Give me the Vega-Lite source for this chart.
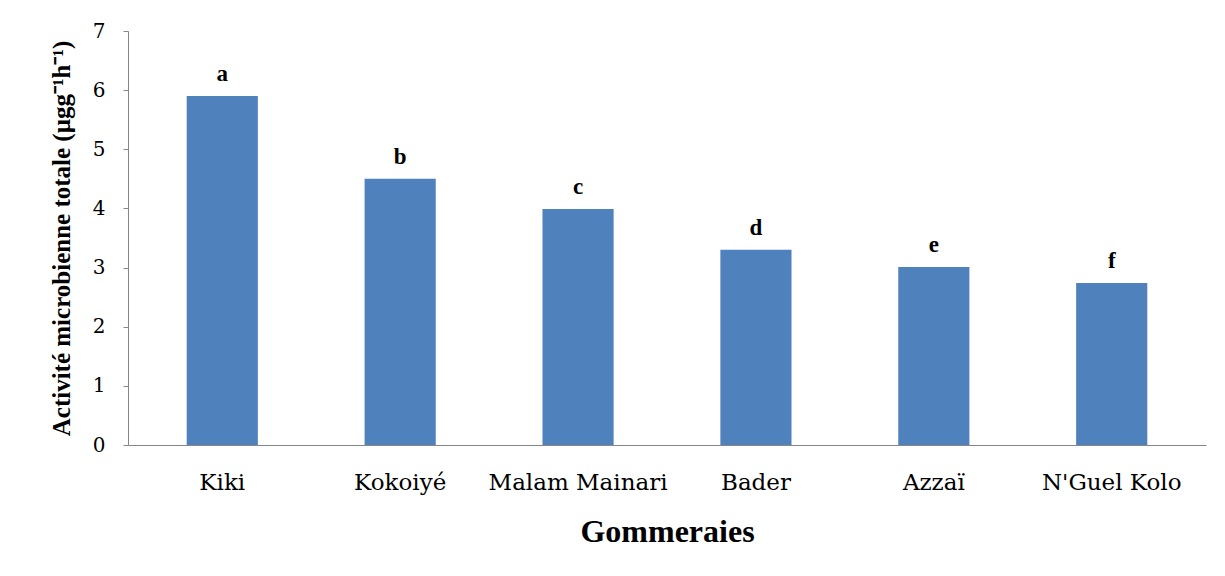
{
  "$schema": "https://vega.github.io/schema/vega-lite/v6.json",
  "width": 1078,
  "height": 414,
  "autosize": {"type": "none"},
  "padding": {"left": 128, "top": 31, "right": 19, "bottom": 131},
  "background": "white",
  "config": {"view": {"stroke": null}, "font": "Liberation Serif"},
  "data": {"values": [
    {"site": "Kiki", "value": 5.9, "letter": "a"},
    {"site": "Kokoiyé", "value": 4.5, "letter": "b"},
    {"site": "Malam Mainari", "value": 3.99, "letter": "c"},
    {"site": "Bader", "value": 3.3, "letter": "d"},
    {"site": "Azzaï", "value": 3.01, "letter": "e"},
    {"site": "N'Guel Kolo", "value": 2.74, "letter": "f"}
  ]},
  "encoding": {
    "x": {"field": "site", "type": "nominal", "sort": null,
      "scale": {"paddingInner": 0.6, "paddingOuter": 0.33},
      "axis": {"title": "Gommeraies", "labelAngle": 0, "ticks": false, "domainColor": "#868686",
        "labelFont": "DejaVu Serif", "labelFontSize": 23, "labelColor": "#000", "labelPadding": 26,
        "titleFont": "Liberation Serif", "titleFontSize": 32, "titleFontWeight": "bold", "titleColor": "#000", "titlePadding": 22}},
    "y": {"field": "value", "type": "quantitative",
      "scale": {"domain": [0, 7]},
      "axis": {"title": "Activité microbienne totale (µgg⁻¹h⁻¹)", "values": [0,1,2,3,4,5,6,7], "grid": false,
        "domainColor": "#868686", "tickColor": "#868686", "tickSize": 5,
        "labelFont": "DejaVu Serif", "labelFontSize": 20, "labelColor": "#000", "labelPadding": 18,
        "titleFont": "Liberation Serif", "titleFontSize": 25, "titleFontWeight": "bold", "titleColor": "#000", "titlePadding": 18}}
  },
  "layer": [
    {"mark": {"type": "bar", "color": "#4f81bd"}},
    {"mark": {"type": "text", "baseline": "bottom", "dy": -10, "fontSize": 23, "fontWeight": "bold", "font": "Liberation Serif", "color": "#000"},
     "encoding": {"text": {"field": "letter"}}}
  ]
}
